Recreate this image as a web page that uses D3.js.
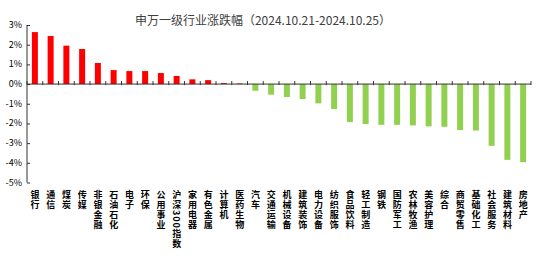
<!DOCTYPE html>
<html>
<head>
<meta charset="utf-8">
<script src="https://cdn.jsdelivr.net/npm/d3@7"></script>
<style>
  body { margin: 0; background: #fff; }
  svg text { font-family: "Noto Sans CJK SC", "DejaVu Sans", sans-serif; }
  .xlab { writing-mode: vertical-rl; text-orientation: mixed; }
</style>
</head>
<body>
<svg id="chart" width="558" height="265"></svg>
<script>
//data
var industries = ['银行','通信','煤炭','传媒','非银金融','石油石化','电子','环保','公用事业','沪深300指数',
	'家用电器','有色金属','计算机','医药生物','汽车','交通运输','机械设备','建筑装饰','电力设备','纺织服饰',
	'食品饮料','轻工制造','钢铁','国防军工','农林牧渔','美容护理','综合','商贸零售','基础化工','社会服务',
	'建筑材料','房地产'];
var changes = [2.64,2.44,1.95,1.78,1.07,0.71,0.66,0.66,0.56,0.41,
	0.24,0.20,0.05,0.03,-0.34,-0.54,-0.66,-0.76,-0.98,-1.27,
	-1.93,-2.03,-2.07,-2.07,-2.10,-2.15,-2.17,-2.34,-2.36,-3.14,
	-3.85,-3.97];
var yTicks = [3,2,1,0,-1,-2,-3,-4,-5];
var title = '申万一级行业涨跌幅（2024.10.21-2024.10.25）';

var svg = d3.select('#chart');

//scales
var x = d3.scaleBand().domain(industries).range([27, 531]).paddingInner(0.62).paddingOuter(0.31);
var xb = d3.scaleBand().domain(industries).range([27, 531]);
var y = d3.scaleLinear().domain([-5, 3]).range([182.5, 25]);

//title
svg.append('text')
	.attr('x', 263)
	.attr('y', 25)
	.style('text-anchor', 'middle')
	.style('font-size', '12px')
	.style('fill', '#404040')
	.text(title);

//bars
svg.selectAll('.bar')
	.data(industries)
	.join('rect')
	.classed('bar', true)
	.attr('x', d => x(d))
	.attr('width', x.bandwidth())
	.attr('y', (d, i) => y(Math.max(0, changes[i])))
	.attr('height', (d, i) => Math.abs(y(changes[i]) - y(0)))
	.style('fill', (d, i) => changes[i] >= 0 ? '#ff0000' : '#92d050');

//y axis
var yAxis = d3.axisRight(y).tickValues(yTicks).tickSize(3).tickFormat('');
svg.append('g')
	.attr('transform', 'translate(27,0)')
	.call(yAxis)
	.call(g => g.select('.domain').attr('stroke', '#333').attr('d', `M0,${y(3)}V${y(-5)}`))
	.call(g => g.selectAll('.tick line').attr('stroke', '#333'));

svg.selectAll('.ylab')
	.data(yTicks)
	.join('text')
	.classed('ylab', true)
	.attr('x', 22)
	.attr('y', d => y(d) + 3)
	.style('text-anchor', 'end')
	.style('font-size', '9px')
	.style('fill', '#000')
	.text(d => d + '%');

//x axis line at 0 with ticks at band edges
var xAxisG = svg.append('g').attr('transform', `translate(0,${y(0)})`);
xAxisG.append('line')
	.attr('x1', 27).attr('x2', 531)
	.attr('stroke', '#333');
xAxisG.selectAll('.xtick')
	.data(industries.concat(['__end']))
	.join('line')
	.attr('x1', (d, i) => 27 + xb.step() * i)
	.attr('x2', (d, i) => 27 + xb.step() * i)
	.attr('y1', -3).attr('y2', 1)
	.attr('stroke', '#333');

//vertical category labels (CJK upright, digits sideways)
svg.selectAll('.xlab')
	.data(industries)
	.join('text')
	.classed('xlab', true)
	.attr('x', d => xb(d) + xb.bandwidth() / 2)
	.attr('y', 190)
	.style('font-size', '9px')
	.style('font-weight', 'bold')
	.style('letter-spacing', '1px')
	.style('fill', '#000')
	.text(d => d);
</script>
</body>
</html>
